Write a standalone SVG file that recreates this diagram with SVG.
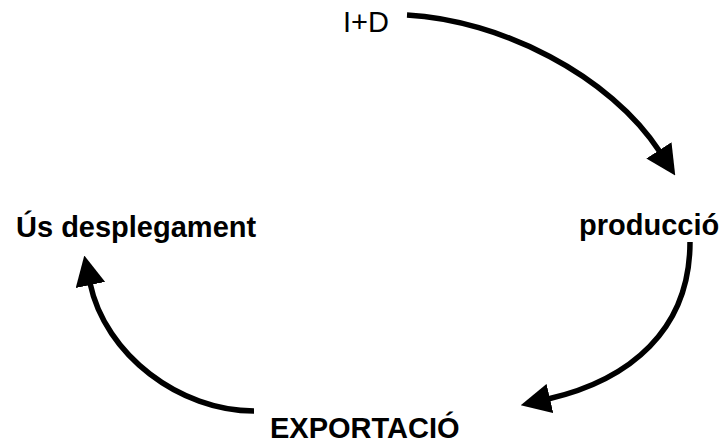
<svg xmlns="http://www.w3.org/2000/svg" width="725" height="443" viewBox="0 0 725 443">
<defs>
<style>
.lbl{font-family:"Liberation Sans",Arial,Helvetica,sans-serif;font-size:29px;fill:#000}
.b{font-weight:bold}
.arr{fill:none;stroke:#000;stroke-width:5.5;marker-end:url(#ah)}
</style>
<marker id="ah" markerUnits="userSpaceOnUse" markerWidth="30" markerHeight="30" viewBox="0 0 30 30" refX="2" refY="15" orient="auto">
<path d="M0,0 L30,15 L0,30 Z" fill="#000"/>
</marker>
</defs>
<rect width="725" height="443" fill="#fff"/>
<g id="connectors">
<path class="arr" d="M407,15 C500,20 610,75 660,152"/>
<path class="arr" d="M690,242 C690,330 630,380 548,399"/>
<path class="arr" d="M254,411 C180,411 105,355 90,283"/>
</g>
<g id="node-ID"><text class="lbl" x="343" y="32">I+D</text></g>
<g id="node-produccio"><text class="lbl b" x="579" y="235">producció</text></g>
<g id="node-exportacio"><text class="lbl b" x="270" y="438">EXPORTACIÓ</text></g>
<g id="node-us"><text class="lbl b" x="16" y="237">Ús desplegament</text></g>
</svg>
